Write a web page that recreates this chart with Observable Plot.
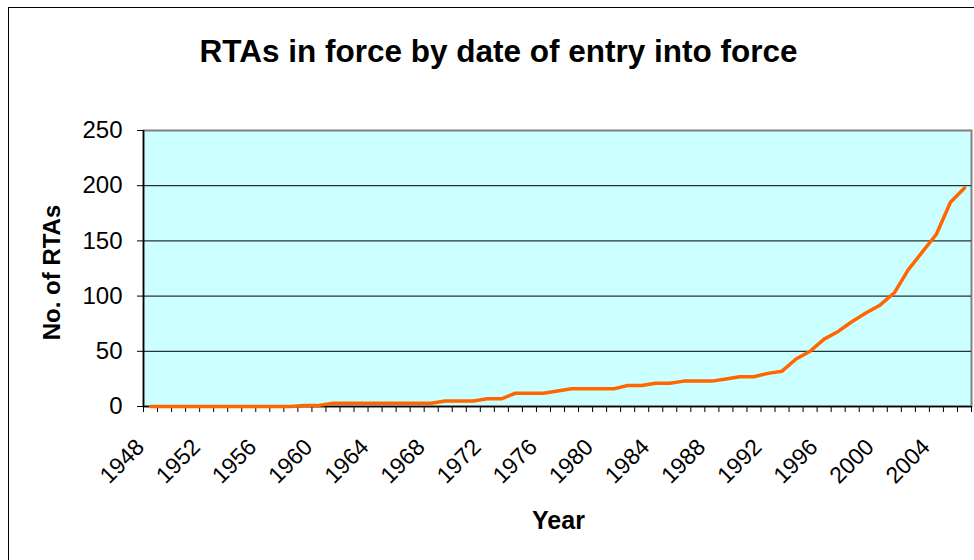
<!DOCTYPE html>
<html>
<head>
<meta charset="utf-8">
<script src="https://cdn.jsdelivr.net/npm/d3@7"></script>
<script src="https://cdn.jsdelivr.net/npm/@observablehq/plot@0.6"></script>
<style>
  html, body { margin: 0; padding: 0; background: #fff; overflow: hidden; }
  #wrap { position: relative; width: 974px; height: 560px; overflow: hidden; }
  #border { position: absolute; left: 8px; top: 7px; width: 3000px; height: 3000px;
            border-left: 1px solid #000; border-top: 1px solid #000; pointer-events: none; }
</style>
</head>
<body>
<div id="wrap"><div id="chart"></div><div id="border"></div></div>
<script>
const title = "RTAs in force by date of entry into force";
const xTitle = "Year";
const yTitle = "No. of RTAs";

const years = [1948,1949,1950,1951,1952,1953,1954,1955,1956,1957,1958,1959,1960,
  1961,1962,1963,1964,1965,1966,1967,1968,1969,1970,1971,1972,1973,1974,1975,1976,
  1977,1978,1979,1980,1981,1982,1983,1984,1985,1986,1987,1988,1989,1990,1991,1992,
  1993,1994,1995,1996,1997,1998,1999,2000,2001,2002,2003,2004,2005,2006];
const rtas = [0,0,0,0,0,0,0,0,0,0,0,1,1,
  3,3,3,3,3,3,3,3,5,5,5,7,7,12,12,12,
  14,16,16,16,16,19,19,21,21,23,23,23,25,27,27,30,
  32,43,50,61,68,77,85,92,103,124,140,156,185,198];
const labelYears = [1948,1952,1956,1960,1964,1968,1972,1976,1980,1984,1988,1992,1996,2000,2004];
const yTicks = [0,50,100,150,200,250];
const yGrid = [50,100,150,200];

const data = years.map((y, i) => ({year: y, value: rtas[i]}));
const xDomain = [years[0] - 0.5, years[years.length - 1] + 0.5];
const boundaries = years.map(y => y - 0.5).concat([xDomain[1]]);

const font = "'Liberation Sans', Arial, Helvetica, sans-serif";

const chart = Plot.plot({
  width: 974,
  height: 560,
  marginLeft: 143,
  marginRight: 3,
  marginTop: 130,
  marginBottom: 154,
  style: {fontFamily: font, background: "transparent", color: "#000", overflow: "visible"},
  x: {domain: xDomain},
  y: {domain: [0, 250]},
  marks: [
    Plot.frame({fill: "#CCFFFF", stroke: "#808080", strokeWidth: 2}),
    Plot.gridY(yGrid, {stroke: "#000", strokeOpacity: 1, strokeWidth: 1}),
    Plot.ruleY([0], {stroke: "#000", strokeWidth: 1.5}),
    Plot.ruleX([xDomain[0]], {stroke: "#000", strokeWidth: 1.5}),
    Plot.axisY(yTicks, {tickSize: 6, tickPadding: 15, fontSize: 24, label: null, stroke: "#000", fill: "#000"}),
    Plot.axisX(boundaries, {tickSize: 6, tickFormat: () => "", label: null, stroke: "#000"}),
    Plot.text(labelYears, {x: d => d, text: d => String(d), frameAnchor: "bottom", rotate: -45,
      textAnchor: "end", lineAnchor: "bottom", dx: -5, dy: 42, fontSize: 23, fill: "#000"}),
    Plot.lineY(data, {x: "year", y: "value", stroke: "#FF6600", strokeWidth: 3.5, strokeLinejoin: "round"}),
    Plot.text([title], {frameAnchor: "top", dx: -59, dy: -69, lineAnchor: "bottom",
      fontSize: 31.5, fontWeight: "bold", fill: "#000"}),
    Plot.text([xTitle], {frameAnchor: "bottom", dx: 1, dy: 122, lineAnchor: "bottom",
      fontSize: 25, fontWeight: "bold", fill: "#000"}),
    Plot.text([yTitle], {frameAnchor: "left", dx: -91, dy: 4, rotate: -90, textAnchor: "middle",
      lineAnchor: "middle", fontSize: 24, fontWeight: "bold", fill: "#000"})
  ]
});
document.getElementById("chart").appendChild(chart);
</script>
</body>
</html>
